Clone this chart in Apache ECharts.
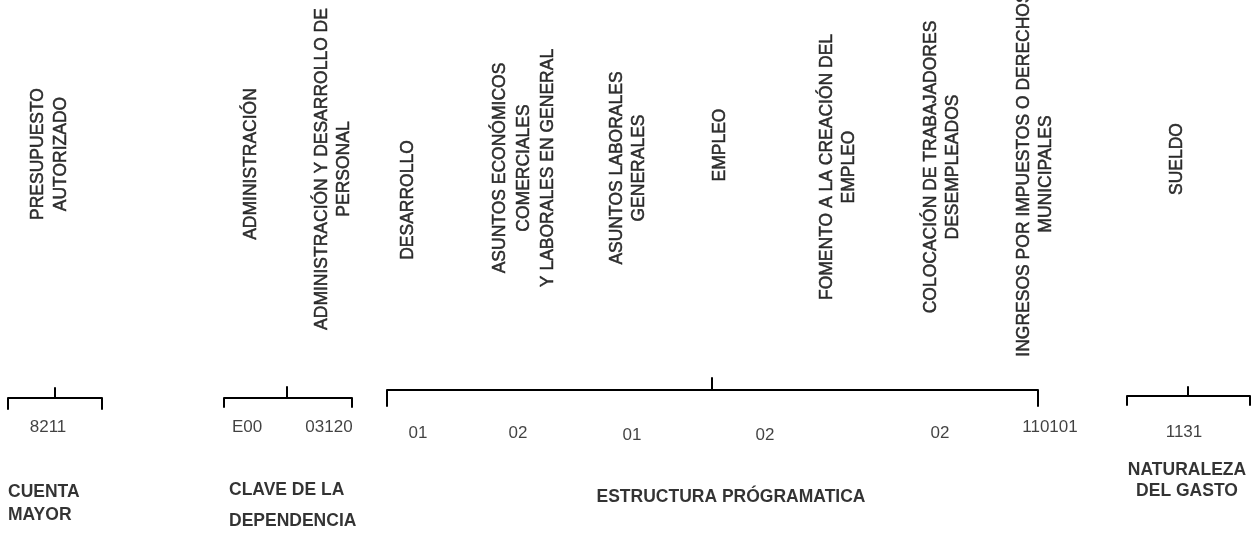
<!DOCTYPE html>
<html>
<head>
<meta charset="utf-8">
<script src="https://cdn.jsdelivr.net/npm/echarts@6/dist/echarts.min.js"></script>
<style>
html,body{margin:0;padding:0;background:#fff;}
#chart{width:1256px;height:536px;}
</style>
</head>
<body>
<div id="chart"></div>
<script>
// ---- content ----
const headings = [
  'PRESUPUESTO\nAUTORIZADO',
  'ADMINISTRACIÓN',
  'ADMINISTRACIÓN Y DESARROLLO DE\nPERSONAL',
  'DESARROLLO',
  'ASUNTOS ECONÓMICOS\nCOMERCIALES\nY LABORALES EN GENERAL',
  'ASUNTOS LABORALES\nGENERALES',
  'EMPLEO',
  'FOMENTO A LA CREACIÓN DEL\nEMPLEO',
  'COLOCACIÓN DE TRABAJADORES\nDESEMPLEADOS',
  'INGRESOS POR IMPUESTOS O DERECHOS\nMUNICIPALES',
  'SUELDO'
];
const codes = ['8211', 'E00', '03120', '01', '02', '01', '02', '02', '110101', '1131'];
const groups = ['CUENTA\nMAYOR', 'CLAVE DE LA\nDEPENDENCIA', 'ESTRUCTURA PRÓGRAMATICA', 'NATURALEZA\nDEL GASTO'];

// ---- layout (positions in diagram units = pixels) ----
const headingX = [50, 251, 333, 408, 524, 628, 720, 838, 942, 1035, 1177];
const headingY = [154, 164, 169, 200, 168, 168, 145, 167, 167, 174, 159];
const headingLH = [23, 22, 22, 22, 24, 22, 22, 22, 22, 22, 22];
const codeX = [48, 247, 329, 418, 518, 632, 765, 940, 1050, 1184];
const codeY = [427, 427, 427, 433, 433, 435, 435, 433, 427, 432];
const groupX = [8, 229, 731, 1187];
const groupY = [503.5, 505.5, 497, 480.5];
const groupAlign = ['left', 'left', 'center', 'center'];
const groupLH = [23, 31, 20, 21];
// braces: [left x, mid x, right x, bar y, end y, tip y]
const braces = [
  [8, 55, 102, 398, 409, 388],
  [224, 287, 352, 398, 407, 387],
  [387, 712, 1038, 390, 406, 378],
  [1127, 1188, 1250, 396, 405, 387]
];

const FONT = '"Liberation Sans", Arial, Helvetica, sans-serif';
const chart = echarts.init(document.getElementById('chart'), null, {renderer: 'canvas'});

const thinStroke = {textBorderWidth: 0.5, textBorderColor: '#000', textShadowBlur: 0};
const noBorder = {textBorderWidth: 0, textBorderColor: 'transparent', textShadowBlur: 0};

const headingData = headings.map((t, i) => ({
  value: [headingX[i], headingY[i]],
  label: {formatter: t, lineHeight: headingLH[i]}
}));
const codeData = codes.map((t, i) => ({value: [codeX[i], codeY[i]], label: {formatter: t}}));
const groupData = groups.map((t, i) => ({
  value: [groupX[i], groupY[i]],
  label: {formatter: t, align: groupAlign[i], lineHeight: groupLH[i]}
}));

const braceSeries = braces.map(b => ({
  type: 'line',
  silent: true,
  symbol: 'none',
  clip: false,
  lineStyle: {color: '#000', width: 2, join: 'round', cap: 'round'},
  data: [[b[0], b[4]], [b[0], b[3]], [b[1], b[3]], [b[1], b[5]], [b[1], b[3]], [b[2], b[3]], [b[2], b[4]]]
}));

chart.setOption({
  animation: false,
  backgroundColor: '#ffffff',
  grid: {left: 0, right: 0, top: 0, bottom: 0},
  xAxis: {type: 'value', min: 0, max: 1256, show: false},
  yAxis: {type: 'value', min: 0, max: 536, inverse: true, show: false},
  series: [
    {
      type: 'scatter', symbolSize: 0, silent: true, clip: false,
      itemStyle: {color: '#000'},
      label: Object.assign({show: true, position: 'inside', rotate: 90, align: 'center', verticalAlign: 'middle',
        color: '#000', fontFamily: FONT, fontSize: 17.5}, thinStroke),
      data: headingData
    },
    {
      type: 'scatter', symbolSize: 0, silent: true, clip: false,
      itemStyle: {color: '#000'},
      label: Object.assign({show: true, position: 'inside', align: 'center', verticalAlign: 'middle',
        color: '#111', fontFamily: FONT, fontSize: 17}, noBorder),
      data: codeData
    },
    {
      type: 'scatter', symbolSize: 0, silent: true, clip: false,
      itemStyle: {color: '#000'},
      label: Object.assign({show: true, position: 'inside', verticalAlign: 'middle',
        color: '#000', fontFamily: FONT, fontSize: 17.5, fontWeight: 'bold'}, noBorder),
      data: groupData
    }
  ].concat(braceSeries)
});
</script>
</body>
</html>
